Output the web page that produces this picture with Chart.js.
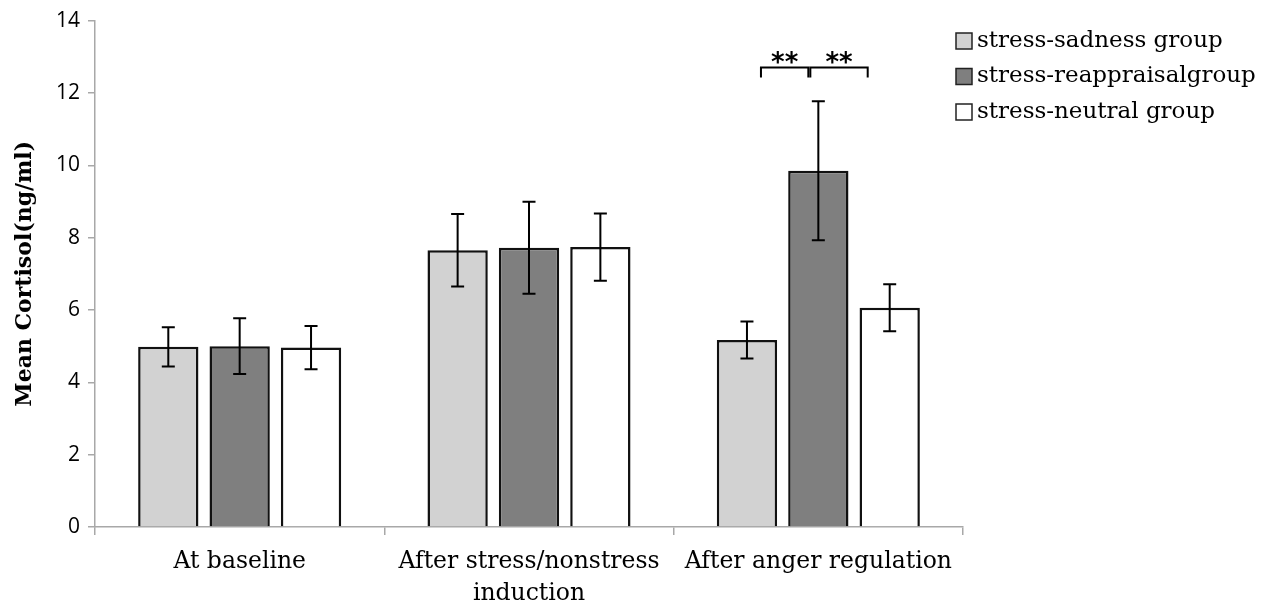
<!DOCTYPE html>
<html>
<head>
<meta charset="utf-8">
<script src="https://cdn.jsdelivr.net/npm/chart.js@4"></script>
<style>
  html, body { margin: 0; padding: 0; background: #fff; }
  #wrap { width: 1267px; height: 613px; }
</style>
</head>
<body>
<div id="wrap"><canvas id="chart" width="1267" height="613"></canvas></div>
<script>
// data
const categories = [['At baseline'], ['After stress/nonstress', 'induction'], ['After anger regulation']];
const seriesNames = ['stress-sadness group', 'stress-reappraisalgroup', 'stress-neutral group'];
const sadness = [4.98, 7.65, 5.17];
const sadnessErr = [0.54, 1.0, 0.51];
const reappraisal = [5.0, 7.72, 9.85];
const reappraisalErr = [0.77, 1.27, 1.92];
const neutral = [4.96, 7.74, 6.06];
const neutralErr = [0.6, 0.93, 0.65];
const yTicks = [0, 2, 4, 6, 8, 10, 12, 14];
// significance: [category index, series a, series b, label]
const sigPairs = [[2, 0, 1, '**'], [2, 1, 2, '**']];
const sigLevel = 12.7;

const colors = ['#d2d2d2', '#7f7f7f', '#ffffff'];
const errors = [sadnessErr, reappraisalErr, neutralErr];
const axisColor = '#a8a8a8';
const serif = '"DejaVu Serif", "Liberation Serif", serif';

const errorBars = {
  id: 'errorBars',
  afterDatasetsDraw(chart) {
    const ctx = chart.ctx, y = chart.scales.y;
    ctx.save();
    ctx.strokeStyle = '#000';
    ctx.lineWidth = 2;
    chart.data.datasets.forEach((ds, i) => {
      chart.getDatasetMeta(i).data.forEach((bar, j) => {
        const v = ds.data[j], e = errors[i][j];
        const top = y.getPixelForValue(v + e), bot = y.getPixelForValue(v - e);
        ctx.beginPath();
        ctx.moveTo(bar.x, top); ctx.lineTo(bar.x, bot);
        ctx.moveTo(bar.x - 6.5, top); ctx.lineTo(bar.x + 6.5, top);
        ctx.moveTo(bar.x - 6.5, bot); ctx.lineTo(bar.x + 6.5, bot);
        ctx.stroke();
      });
    });
    // significance brackets
    const yb = y.getPixelForValue(sigLevel);
    sigPairs.forEach(([c, a, b, txt], k) => {
      const xa = chart.getDatasetMeta(a).data[c].x + (k === 0 ? 14 : -8);
      const xb = chart.getDatasetMeta(b).data[c].x + (k === 0 ? -10 : -22);
      ctx.lineWidth = 2;
      ctx.beginPath();
      ctx.moveTo(xa, yb + 10); ctx.lineTo(xa, yb); ctx.lineTo(xb, yb); ctx.lineTo(xb, yb + 10);
      ctx.stroke();
      ctx.fillStyle = '#000';
      ctx.font = 'bold 26px "DejaVu Sans", sans-serif';
      ctx.textAlign = 'center';
      ctx.textBaseline = 'alphabetic';
      ctx.fillText(txt, (xa + xb) / 2, yb + 3);
    });
    ctx.restore();
  }
};

const sideLegend = {
  id: 'sideLegend',
  afterDraw(chart) {
    const ctx = chart.ctx;
    ctx.save();
    ctx.font = '23px ' + serif;
    ctx.textBaseline = 'middle';
    ctx.textAlign = 'left';
    seriesNames.forEach((name, i) => {
      const cy = 41 + i * 35.5;
      ctx.fillStyle = colors[i];
      ctx.fillRect(956, cy - 8, 16, 16);
      ctx.strokeStyle = '#222';
      ctx.lineWidth = 1.5;
      ctx.strokeRect(956, cy - 8, 16, 16);
      ctx.fillStyle = '#000';
      ctx.fillText(name, 977, cy);
    });
    ctx.restore();
  }
};

new Chart(document.getElementById('chart'), {
  type: 'bar',
  data: {
    labels: categories,
    datasets: [sadness, reappraisal, neutral].map((d, i) => ({
      label: seriesNames[i],
      data: d,
      backgroundColor: colors[i],
      borderColor: '#111',
      borderWidth: 2.5,
      categoryPercentage: 0.74,
      barPercentage: 0.845
    }))
  },
  options: {
    responsive: false,
    animation: false,
    layout: { padding: { top: 19, right: 304, left: 0, bottom: 0 } },
    plugins: { legend: { display: false }, tooltip: { enabled: false } },
    scales: {
      x: {
        grid: { display: true, offset: true, drawOnChartArea: false, tickLength: 8, color: axisColor, lineWidth: 1.5 },
        border: { color: axisColor, width: 1.5 },
        ticks: { color: '#000', font: { family: serif, size: 23.5, lineHeight: 1.4 }, padding: 10, maxRotation: 0 },
        afterFit(s) { s.height = 86; }
      },
      y: {
        min: 0, max: 14,
        afterBuildTicks(s) { s.ticks = yTicks.map(v => ({ value: v })); },
        grid: { display: true, drawOnChartArea: false, tickLength: 7, color: axisColor, lineWidth: 1.5 },
        border: { color: axisColor, width: 1.5 },
        ticks: { color: '#000', font: { family: '"Open Sans", sans-serif', size: 21 }, padding: 8 },
        title: { display: true, text: 'Mean Cortisol(ng/ml)', color: '#000', font: { family: serif, size: 22, weight: 'bold' }, padding: { top: 12, bottom: 0 } },
        afterFit(s) { s.width = 95; }
      }
    }
  },
  plugins: [errorBars, sideLegend]
});
</script>
</body>
</html>
